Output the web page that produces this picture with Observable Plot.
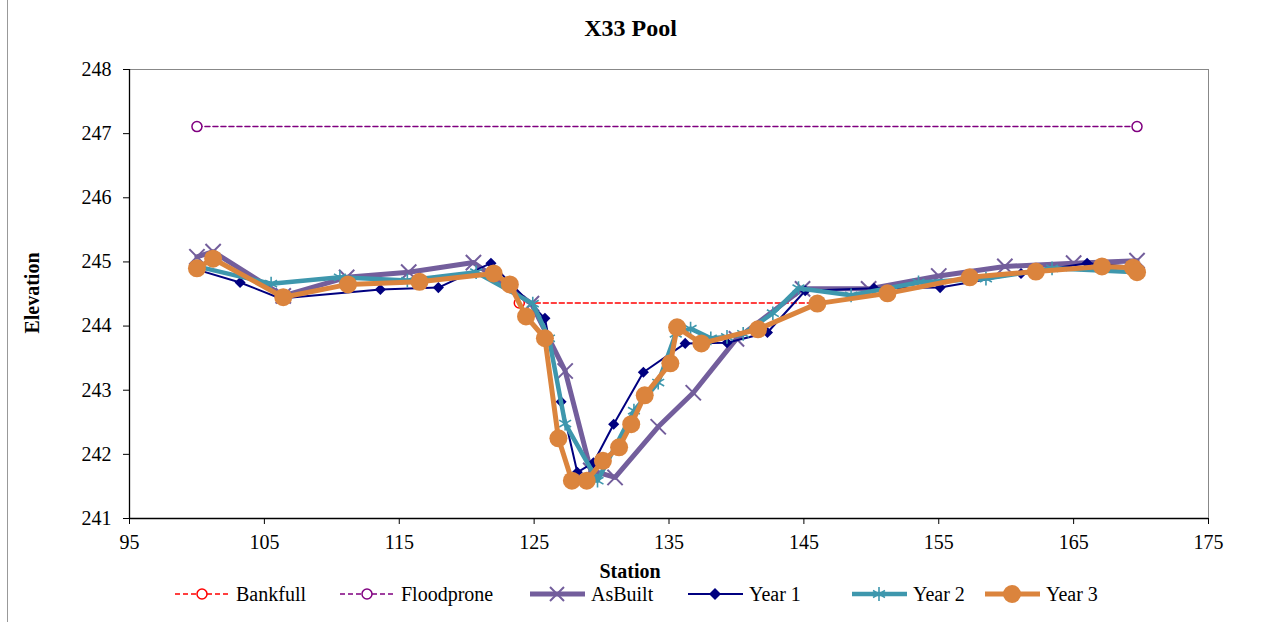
<!DOCTYPE html>
<html>
<head>
<meta charset="utf-8">
<script src="https://cdn.jsdelivr.net/npm/d3@7"></script>
<script src="https://cdn.jsdelivr.net/npm/@observablehq/plot@0.6"></script>
<style>
  html, body { margin: 0; padding: 0; background: #fff; }
  #wrap { position: relative; width: 1261px; height: 622px; font-family: "Liberation Serif", "Times New Roman", serif; color: #000; overflow: hidden; }
  #chart { position: absolute; left: 0; top: 0; }
  #chart svg text { font-family: "Liberation Serif", "Times New Roman", serif !important; }
  .title { position: absolute; left: 0; width: 1261px; top: 15px; text-align: center; font-weight: bold; font-size: 24px; }
  .ylab { position: absolute; left: 32px; top: 293px; transform: translate(-50%, -50%) rotate(-90deg); font-weight: bold; font-size: 20px; white-space: nowrap; }
  .xlab { position: absolute; left: 630px; top: 571px; transform: translate(-50%, -50%); font-weight: bold; font-size: 20px; }
  .legend { position: absolute; top: 582px; left: 0; width: 1261px; height: 24px; font-size: 20px; }
  .item { position: absolute; top: 0; display: flex; align-items: center; height: 24px; }
  .item svg { margin-right: 6px; }
  .border { position: absolute; top: 0; width: 1px; height: 622px; background: #999; }
</style>
</head>
<body>
<div id="wrap">
  <div class="border" style="left:7px"></div>
  <div id="chart"></div>
  <div class="title">X33 Pool</div>
  <div class="ylab">Elevation</div>
  <div class="xlab">Station</div>
  <div class="legend" id="legend"></div>
</div>
<script>
// ---- Data ----
const xTicks = [95, 105, 115, 125, 135, 145, 155, 165, 175];
const yTicks = [241, 242, 243, 244, 245, 246, 247, 248];

const bankfullStation = [123.9, 146.0];
const bankfullElev = [244.36, 244.36];

const floodproneStation = [100.0, 169.7];
const floodproneElev = [247.11, 247.11];

const asBuiltStation = [100.0, 101.2, 106.4, 111.1, 115.7, 120.5, 124.8, 127.3, 129.2, 131.0, 134.2, 136.8, 140.0, 144.9, 149.8, 155.0, 159.9, 165.0, 169.7];
const asBuiltElev    = [245.08, 245.16, 244.47, 244.76, 244.84, 244.99, 244.35, 243.30, 241.75, 241.64, 242.43, 242.96, 243.80, 244.58, 244.58, 244.78, 244.93, 244.98, 245.02];

const year1Station = [100.0, 103.2, 106.2, 113.6, 117.9, 121.8, 125.8, 127.0, 128.2, 129.4, 130.9, 133.1, 136.2, 139.3, 142.3, 145.1, 150.2, 155.1, 161.1, 166.0, 169.7];
const year1Elev    = [244.88, 244.68, 244.43, 244.57, 244.60, 244.98, 244.12, 242.82, 241.72, 241.87, 242.47, 243.28, 243.73, 243.74, 243.90, 244.55, 244.59, 244.60, 244.82, 244.98, 244.92];

const year2Station = [100.0, 105.5, 110.6, 115.6, 120.7, 124.9, 126.1, 127.3, 129.7, 132.4, 134.2, 135.5, 136.6, 138.1, 139.3, 140.5, 142.7, 144.6, 148.5, 153.5, 158.5, 163.4, 169.7];
const year2Elev    = [244.93, 244.66, 244.76, 244.71, 244.84, 244.35, 243.81, 242.48, 241.59, 242.68, 243.12, 243.88, 243.96, 243.81, 243.83, 243.88, 244.20, 244.59, 244.48, 244.68, 244.74, 244.90, 244.84];

const year3Station = [100.0, 101.2, 106.4, 111.2, 116.5, 122.0, 123.2, 124.4, 125.8, 126.8, 127.8, 128.9, 130.1, 131.3, 132.2, 133.2, 135.1, 135.6, 137.4, 141.6, 146.0, 151.2, 157.3, 162.2, 167.1, 169.4, 169.7];
const year3Elev    = [244.90, 245.05, 244.45, 244.65, 244.69, 244.82, 244.65, 244.15, 243.81, 242.25, 241.59, 241.59, 241.90, 242.11, 242.47, 242.92, 243.42, 243.98, 243.73, 243.95, 244.35, 244.51, 244.76, 244.85, 244.93, 244.91, 244.84];

const seriesNames = ["Bankfull", "Floodprone", "AsBuilt", "Year 1", "Year 2", "Year 3"];

// ---- Build tables ----
const zip = (xs, ys) => xs.map((x, i) => ({x, y: ys[i]}));
const bankfull = zip(bankfullStation, bankfullElev);
const floodprone = zip(floodproneStation, floodproneElev);
const asBuilt = zip(asBuiltStation, asBuiltElev);
const year1 = zip(year1Station, year1Elev);
const year2 = zip(year2Station, year2Elev);
const year3 = zip(year3Station, year3Elev);

const C = {
  bankfull: "#FF0000",
  floodprone: "#800080",
  asBuilt: "#735E9C",
  year1: "#000080",
  year2: "#3E97AD",
  year3: "#DB843D"
};

const chart = Plot.plot({
  width: 1261,
  height: 622,
  marginLeft: 129,
  marginRight: 53,
  marginTop: 69,
  marginBottom: 104,
  style: { fontFamily: "Liberation Serif, Times New Roman, serif", fontSize: "20px", color: "#000", background: "transparent", overflow: "visible" },
  x: { domain: [95, 175] },
  y: { domain: [241, 248] },
  marks: [
    Plot.ruleY([248], { stroke: "#888", strokeWidth: 1 }),
    Plot.ruleX([175], { stroke: "#888", strokeWidth: 1 }),
    Plot.axisY({ ticks: yTicks, tickFormat: d => String(d), tickSize: 6, tickPadding: 12, label: null, fontSize: 20, stroke: "#000" }),
    Plot.axisX({ ticks: xTicks, tickFormat: d => String(d), tickSize: 6, tickPadding: 10, label: null, fontSize: 20, stroke: "#000" }),
    Plot.ruleX([95], { stroke: "#000", strokeWidth: 1.3 }),
    Plot.ruleY([241], { stroke: "#000", strokeWidth: 1.3 }),

    Plot.line(bankfull, { x: "x", y: "y", stroke: C.bankfull, strokeWidth: 1.5, strokeDasharray: "5,3" }),
    Plot.dot(bankfull, { x: "x", y: "y", r: 5, stroke: C.bankfull, fill: "white", strokeWidth: 1.5 }),

    Plot.line(floodprone, { x: "x", y: "y", stroke: C.floodprone, strokeWidth: 1.5, strokeDasharray: "5,3" }),
    Plot.dot(floodprone, { x: "x", y: "y", r: 5, stroke: C.floodprone, fill: "white", strokeWidth: 1.5 }),

    Plot.line(asBuilt, { x: "x", y: "y", stroke: C.asBuilt, strokeWidth: 5 }),
    Plot.dot(asBuilt, { x: "x", y: "y", symbol: "times", r: 7, stroke: C.asBuilt, strokeWidth: 2 }),

    Plot.line(year1, { x: "x", y: "y", stroke: C.year1, strokeWidth: 2 }),
    Plot.dot(year1, { x: "x", y: "y", symbol: "diamond2", r: 5, fill: C.year1, stroke: "none" }),

    Plot.line(year2, { x: "x", y: "y", stroke: C.year2, strokeWidth: 4.5 }),
    Plot.dot(year2, { x: "x", y: "y", symbol: "asterisk", r: 6.5, stroke: C.year2, strokeWidth: 1.6 }),

    Plot.line(year3, { x: "x", y: "y", stroke: C.year3, strokeWidth: 5 }),
    Plot.dot(year3, { x: "x", y: "y", r: 9, fill: C.year3, stroke: "none" })
  ]
});
document.getElementById("chart").appendChild(chart);

// ---- Legend ----
const legendSpecs = [
  { name: seriesNames[0], left: 175, color: C.bankfull, width: 1.5, dash: "5,3", marker: "ocircle" },
  { name: seriesNames[1], left: 340, color: C.floodprone, width: 1.5, dash: "5,3", marker: "ocircle" },
  { name: seriesNames[2], left: 530, color: C.asBuilt, width: 5, dash: null, marker: "times" },
  { name: seriesNames[3], left: 688, color: C.year1, width: 2, dash: null, marker: "diamond" },
  { name: seriesNames[4], left: 852, color: C.year2, width: 4.5, dash: null, marker: "asterisk" },
  { name: seriesNames[5], left: 985, color: C.year3, width: 5, dash: null, marker: "circle" }
];
const legend = document.getElementById("legend");
for (const s of legendSpecs) {
  const item = document.createElement("div");
  item.className = "item";
  item.style.left = s.left + "px";
  let m = "";
  if (s.marker === "ocircle") m = `<circle cx="27" cy="12" r="5" fill="white" stroke="${s.color}" stroke-width="1.5"/>`;
  if (s.marker === "times") m = `<path d="M20,5L34,19M34,5L20,19" stroke="${s.color}" stroke-width="2"/>`;
  if (s.marker === "diamond") m = `<path d="M27,6L33,12L27,18L21,12Z" fill="${s.color}"/>`;
  if (s.marker === "asterisk") m = `<path d="M27,5L27,19M21,8.5L33,15.5M33,8.5L21,15.5" stroke="${s.color}" stroke-width="1.6"/>`;
  if (s.marker === "circle") m = `<circle cx="27" cy="12" r="9" fill="${s.color}"/>`;
  item.innerHTML = `<svg width="55" height="24"><line x1="0" y1="12" x2="55" y2="12" stroke="${s.color}" stroke-width="${s.width}" ${s.dash ? `stroke-dasharray="${s.dash}"` : ""}/>${m}</svg><span>${s.name}</span>`;
  legend.appendChild(item);
}
</script>
</body>
</html>
